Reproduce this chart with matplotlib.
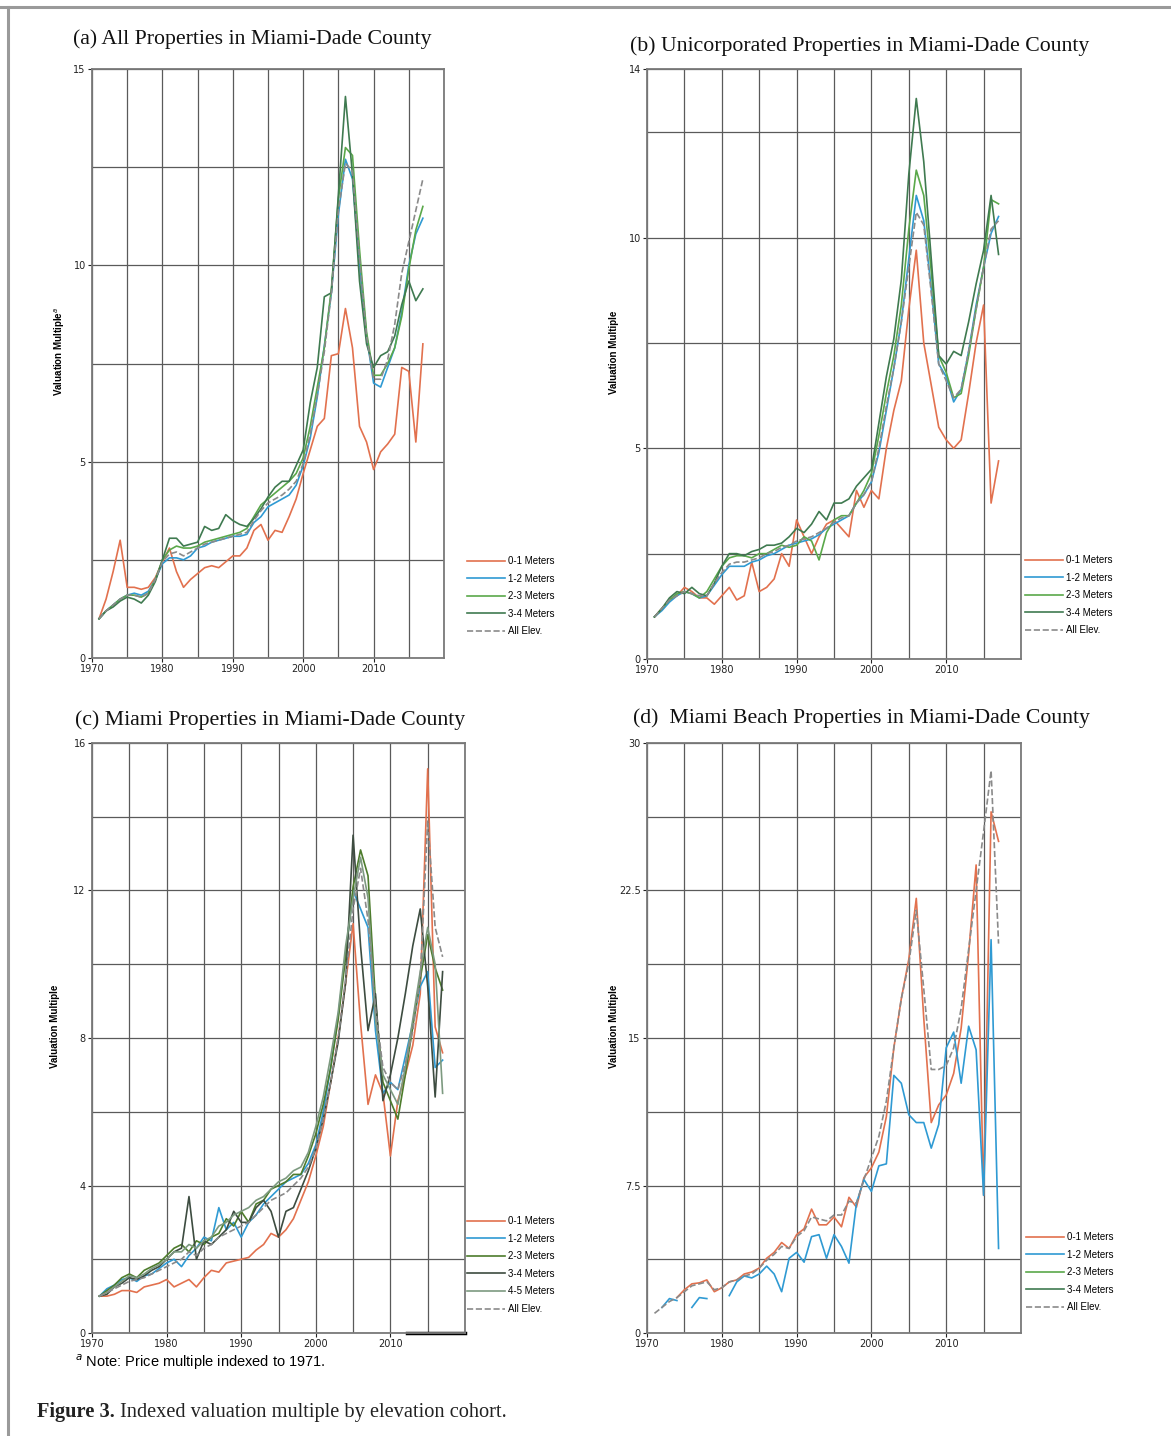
import matplotlib.pyplot as plt
import numpy as np
from matplotlib.lines import Line2D
from matplotlib.ticker import FixedLocator, MultipleLocator

nan = np.nan
years = np.arange(1971, 2018)

# ---------------- (a) all properties ----------------
a_01 = [1.0, 1.5, 2.2, 3.0, 1.8, 1.8, 1.75, 1.8, 2.05, 2.45,
        2.8, 2.2, 1.8, 2.0, 2.15, 2.3, 2.35, 2.3, 2.45, 2.6,
        2.6, 2.8, 3.25, 3.4, 3.0, 3.25, 3.2, 3.6, 4.05, 4.7,
        5.3, 5.9, 6.1, 7.7, 7.75, 8.9, 7.9, 5.9, 5.5, 4.8,
        5.25, 5.45, 5.7, 7.4, 7.3, 5.5, 8.0]
a_12 = [1.0, 1.2, 1.35, 1.5, 1.6, 1.65, 1.6, 1.7, 2.0, 2.4,
        2.55, 2.55, 2.5, 2.6, 2.8, 2.85, 2.95, 3.0, 3.05, 3.1,
        3.1, 3.15, 3.45, 3.6, 3.85, 3.95, 4.05, 4.15, 4.4, 4.9,
        5.6, 6.65, 7.95, 9.3, 11.3, 12.7, 12.2, 10.0, 8.2, 7.0,
        6.9, 7.4, 7.9, 8.8, 10.0, 10.8, 11.2]
a_23 = [1.0, 1.2, 1.35, 1.5, 1.6, 1.6, 1.55, 1.65, 2.0, 2.5,
        2.75, 2.85, 2.8, 2.8, 2.85, 2.95, 3.0, 3.05, 3.1, 3.15,
        3.2, 3.3, 3.6, 3.9, 4.05, 4.2, 4.35, 4.5, 4.7, 5.1,
        5.9, 6.9, 7.9, 9.4, 11.7, 13.0, 12.8, 10.4, 8.3, 7.2,
        7.2, 7.5, 7.9, 8.7, 9.9, 10.9, 11.5]
a_34 = [1.0, 1.2, 1.3, 1.45, 1.55, 1.5, 1.4, 1.6, 1.95, 2.5,
        3.05, 3.05, 2.85, 2.9, 2.95, 3.35, 3.25, 3.3, 3.65, 3.5,
        3.4, 3.35, 3.55, 3.8, 4.1, 4.35, 4.5, 4.5, 4.9, 5.3,
        6.5, 7.4, 9.2, 9.3, 11.8, 14.3, 12.3, 9.6, 8.0, 7.4,
        7.7, 7.8, 8.2, 9.0, 9.6, 9.1, 9.4]
a_all = [1.0, 1.2, 1.35, 1.5, 1.6, 1.6, 1.55, 1.65, 2.0, 2.45,
         2.65, 2.7, 2.6, 2.7, 2.8, 2.9, 2.95, 3.0, 3.05, 3.1,
         3.15, 3.2, 3.5, 3.75, 3.95, 4.05, 4.15, 4.3, 4.5, 4.95,
         5.7, 6.7, 7.8, 9.3, 11.4, 12.6, 12.4, 10.2, 8.2, 7.1,
         7.1, 7.6, 8.5, 9.8, 10.6, 11.4, 12.2]

# ---------------- (b) unincorporated ----------------
b_01 = [1.0, 1.2, 1.4, 1.5, 1.7, 1.6, 1.45, 1.45, 1.3, 1.5,
        1.7, 1.4, 1.5, 2.3, 1.6, 1.7, 1.9, 2.5, 2.2, 3.3,
        2.9, 2.5, 2.9, 3.2, 3.3, 3.1, 2.9, 4.0, 3.6, 4.0,
        3.8, 5.0, 5.9, 6.6, 8.3, 9.7, 7.5, 6.5, 5.5, 5.2,
        5.0, 5.2, 6.3, 7.5, 8.4, 3.7, 4.7]
b_12 = [1.0, 1.15, 1.35, 1.5, 1.6, 1.55, 1.45, 1.5, 1.75, 2.0,
        2.2, 2.2, 2.2, 2.3, 2.35, 2.45, 2.5, 2.6, 2.7, 2.75,
        2.8, 2.85, 2.95, 3.1, 3.2, 3.3, 3.4, 3.7, 3.9, 4.2,
        4.9, 5.9, 6.9, 8.0, 9.5, 11.0, 10.4, 8.8, 7.0, 6.7,
        6.1, 6.4, 7.3, 8.4, 9.3, 10.1, 10.5]
b_23 = [1.0, 1.2, 1.4, 1.55, 1.6, 1.55, 1.45, 1.6, 1.9, 2.2,
        2.4, 2.45, 2.45, 2.4, 2.5, 2.5, 2.6, 2.7, 2.65, 2.7,
        2.9, 2.8, 2.35, 3.0, 3.3, 3.4, 3.4, 3.7, 4.0, 4.4,
        5.3, 6.3, 7.2, 8.4, 10.2, 11.6, 11.0, 9.2, 7.2, 6.8,
        6.2, 6.3, 7.2, 8.3, 9.3, 10.9, 10.8]
b_34 = [1.0, 1.2, 1.45, 1.6, 1.55, 1.7, 1.55, 1.5, 1.8, 2.2,
        2.5, 2.5, 2.45, 2.55, 2.6, 2.7, 2.7, 2.75, 2.9, 3.1,
        3.0, 3.2, 3.5, 3.3, 3.7, 3.7, 3.8, 4.1, 4.3, 4.5,
        5.6, 6.7, 7.6, 9.0, 11.5, 13.3, 11.8, 9.5, 7.2, 7.0,
        7.3, 7.2, 8.0, 8.9, 9.7, 11.0, 9.6]
b_all = [1.0, 1.2, 1.4, 1.5, 1.6, 1.55, 1.5, 1.5, 1.8, 2.05,
         2.25, 2.3, 2.3, 2.35, 2.4, 2.5, 2.55, 2.65, 2.7, 2.8,
         2.85, 2.9, 3.0, 3.1, 3.25, 3.35, 3.4, 3.7, 3.9, 4.2,
         5.0, 6.0, 6.9, 8.0, 9.3, 10.6, 10.3, 8.7, 7.0, 6.6,
         6.2, 6.4, 7.3, 8.3, 9.3, 10.2, 10.4]

# ---------------- (c) Miami ----------------
c_01 = [1.0, 1.0, 1.05, 1.15, 1.15, 1.1, 1.25, 1.3, 1.35, 1.45,
        1.25, 1.35, 1.45, 1.25, 1.5, 1.7, 1.65, 1.9, 1.95, 2.0,
        2.05, 2.25, 2.4, 2.7, 2.6, 2.8, 3.1, 3.6, 4.1, 4.8,
        5.6, 6.8, 8.0, 9.5, 11.1, 8.4, 6.2, 7.0, 6.5, 4.8,
        6.3, 7.0, 7.8, 9.2, 15.3, 8.3, 7.6]
c_12 = [1.0, 1.2, 1.3, 1.45, 1.5, 1.4, 1.55, 1.6, 1.75, 1.9,
        2.0, 1.8, 2.1, 2.3, 2.6, 2.5, 3.4, 2.8, 3.0, 2.6,
        3.0, 3.2, 3.5, 3.7, 3.9, 4.1, 4.2, 4.3, 4.6, 5.1,
        6.0, 7.2, 8.6, 10.3, 12.0, 11.5, 11.0, 8.2, 6.5, 6.8,
        6.6, 7.5, 8.4, 9.4, 9.8, 7.2, 7.4]
c_23 = [1.0, 1.15, 1.3, 1.5, 1.6, 1.5, 1.7, 1.8, 1.9, 2.1,
        2.3, 2.4, 2.2, 2.5, 2.4, 2.6, 2.7, 3.1, 2.9, 3.3,
        3.0, 3.5, 3.6, 3.9, 4.0, 4.1, 4.3, 4.3, 4.8, 5.4,
        6.2, 7.2, 8.5, 10.2, 12.1, 13.1, 12.4, 9.0, 6.8, 6.3,
        5.8, 7.0, 8.3, 9.6, 10.8, 9.9, 9.3]
c_34 = [1.0, 1.05, 1.25, 1.35, 1.5, 1.45, 1.55, 1.7, 1.8, 2.0,
        2.2, 2.3, 3.7, 2.0, 2.5, 2.4, 2.6, 2.8, 3.3, 3.0,
        3.0, 3.4, 3.6, 3.3, 2.6, 3.3, 3.4, 3.9, 4.4, 5.0,
        5.8, 6.8, 7.9, 9.5, 13.5, 10.5, 8.2, 9.2, 6.3, 7.0,
        8.0, 9.2, 10.5, 11.5, 9.4, 6.4, 9.8]
c_45 = [1.0, 1.1, 1.25, 1.4, 1.55, 1.5, 1.6, 1.75, 1.85, 2.0,
        2.2, 2.2, 2.4, 2.3, 2.5, 2.6, 2.9, 3.0, 3.2, 3.3,
        3.4, 3.6, 3.7, 3.9, 4.1, 4.2, 4.4, 4.5, 4.9, 5.6,
        6.4, 7.5, 8.7, 10.5, 11.8, 12.9, 11.8, 8.5, 7.0, 6.6,
        6.2, 7.2, 8.5, 9.8, 11.0, 10.0, 6.5]
c_all = [1.0, 1.1, 1.2, 1.3, 1.4, 1.45, 1.5, 1.6, 1.7, 1.8,
         1.9, 2.0, 2.2, 2.1, 2.3, 2.4, 2.6, 2.7, 2.8, 2.9,
         3.0, 3.2, 3.4, 3.6, 3.7, 3.8, 4.0, 4.2, 4.5, 5.0,
         5.8, 6.8, 8.0, 9.6, 11.5, 12.6, 11.2, 8.8, 7.2, 6.8,
         6.6, 7.3, 8.2, 9.6, 13.9, 11.0, 10.2]

# ---------------- (d) Miami Beach ----------------
d_01 = [nan, nan, nan, 1.8, 2.2, 2.5, 2.55, 2.7, 2.1, 2.3,
        2.6, 2.7, 3.0, 3.1, 3.3, 3.8, 4.1, 4.6, 4.3, 5.0,
        5.3, 6.3, 5.5, 5.5, 5.9, 5.4, 6.9, 6.4, 7.9, 8.4,
        9.2, 11.0, 14.5, 17.0, 19.0, 22.1, 16.0, 10.7, 11.6, 12.1,
        13.2, 15.5, 19.3, 23.8, 7.0, 26.5, 25.0]
d_12 = [nan, 1.3, 1.75, 1.65, nan, 1.3, 1.8, 1.75, nan, nan,
        1.9, 2.6, 2.9, 2.8, 3.0, 3.4, 3.0, 2.1, 3.8, 4.1,
        3.6, 4.9, 5.0, 3.8, 5.0, 4.4, 3.55, 6.6, 7.8, 7.2,
        8.5, 8.6, 13.1, 12.7, 11.1, 10.7, 10.7, 9.4, 10.6, 14.5,
        15.3, 12.7, 15.6, 14.4, 7.0, 20.0, 4.3]
d_23 = [nan] * 47
d_34 = [nan] * 47
d_all = [1.0, 1.3, 1.6, 1.8, 2.1, 2.4, 2.5, 2.6, 2.2, 2.3,
         2.6, 2.7, 2.9, 3.0, 3.3, 3.7, 4.0, 4.4, 4.3, 4.9,
         5.2, 5.9, 5.8, 5.7, 6.0, 6.0, 6.7, 6.6, 7.8, 8.9,
         10.0, 11.8, 14.5, 17.0, 18.8, 21.5, 17.5, 13.4, 13.4, 13.6,
         14.5, 16.5, 19.5, 22.5, 25.5, 28.6, 19.8]

names4 = ['0-1 Meters', '1-2 Meters', '2-3 Meters', '3-4 Meters', 'All Elev.']
names5 = ['0-1 Meters', '1-2 Meters', '2-3 Meters', '3-4 Meters', '4-5 Meters', 'All Elev.']
colors4 = ['#e2714e', '#2f9ad3', '#5aa84a', '#3f7a50', '#8a8a8a']
colors5 = ['#e2714e', '#2f9ad3', '#4d7c2c', '#3d4c40', '#7d9a80', '#8a8a8a']

W, H = 1171, 1436
fig = plt.figure(figsize=(W / 100, H / 100), dpi=100)


def box(l, t, r, b):
    return [l / W, 1 - b / H, (r - l) / W, (b - t) / H]


panels = [
    dict(rect=box(92, 69, 444, 658), series=[a_01, a_12, a_23, a_34, a_all], names=names4, colors=colors4,
         ylim=15, ymaj=[0, 5, 10, 15], ylab=['0', '5', '10', '15'], ymin=2.5,
         ylabel='Valuation Multiple$^{a}$', lx=-0.072,
         title='(a) All Properties in Miami-Dade County', tx=73, ty=39, leg=(467, 556), black=False),
    dict(rect=box(647, 69, 1021, 659), series=[b_01, b_12, b_23, b_34, b_all], names=names4, colors=colors4,
         ylim=14, ymaj=[0, 5, 10, 14], ylab=['0', '5', '10', '14'], ymin=2.5,
         ylabel='Valuation Multiple', lx=-0.074,
         title='(b) Unicorporated Properties in Miami-Dade County', tx=630, ty=46, leg=(1025, 555), black=False),
    dict(rect=box(92, 743, 465, 1333), series=[c_01, c_12, c_23, c_34, c_45, c_all], names=names5,
         colors=colors5, ylim=16, ymaj=[0, 4, 8, 12, 16], ylab=['0', '4', '8', '12', '16'], ymin=2,
         ylabel='Valuation Multiple', lx=-0.087,
         title='(c) Miami Properties in Miami-Dade County', tx=75, ty=720, leg=(467, 1216), black=True),
    dict(rect=box(647, 743, 1021, 1333), series=[d_01, d_12, d_23, d_34, d_all], names=names4, colors=colors4,
         ylim=30, ymaj=[0, 7.5, 15, 22.5, 30], ylab=['0', '7.5', '15', '22.5', '30'], ymin=3.75,
         ylabel='Valuation Multiple', lx=-0.076,
         title='(d)  Miami Beach Properties in Miami-Dade County', tx=633, ty=718, leg=(1026, 1232), black=False),
]

for p in panels:
    ax = fig.add_axes(p['rect'])
    handles = []
    for vals, name, col in zip(p['series'], p['names'], p['colors']):
        ls = '--' if name.startswith('All') else '-'
        h, = ax.plot(years, vals, color=col, lw=1.2, ls=ls, label=name)
        handles.append(h)
    ax.set_xlim(1970, 2020)
    ax.set_ylim(0, p['ylim'])
    ax.xaxis.set_major_locator(FixedLocator([1970, 1980, 1990, 2000, 2010]))
    ax.xaxis.set_minor_locator(MultipleLocator(5))
    ax.set_yticks(p['ymaj'], p['ylab'])
    ax.yaxis.set_minor_locator(MultipleLocator(p['ymin']))
    ax.grid(True, which='both', color='#5a5a5a', lw=0.9)
    ax.set_axisbelow(True)
    ax.tick_params(which='major', length=3, width=0.8, labelsize=7, pad=1.5, colors='#222222')
    ax.tick_params(which='minor', length=0)
    for s in ax.spines.values():
        s.set_color('#7a7a7a')
        s.set_linewidth(1.3)
    if p['black']:
        ax.axhline(0, xmin=0.845, xmax=1.0, color='black', lw=2.5, clip_on=False)
    ax.set_ylabel(p['ylabel'], fontsize=7, fontweight='bold', family='Liberation Sans')
    ax.yaxis.set_label_coords(p['lx'], 0.52)
    fig.text(p['tx'] / W, 1 - p['ty'] / H, p['title'], family='Liberation Serif', fontsize=15.7,
             ha='left', va='center', color='#111111')
    lx, ly = p['leg']
    fig.legend(handles=handles, loc='upper left', bbox_to_anchor=(lx / W, 1 - ly / H), frameon=False,
               handlelength=3.9, handletextpad=0.35, labelspacing=0.78,
               borderpad=0, borderaxespad=0, prop={'family': 'Liberation Sans', 'size': 7})

# outer frame of the figure box
fig.add_artist(Line2D([0, 1], [1 - 7 / H, 1 - 7 / H], color='#9a9a9a', lw=2.2))
fig.add_artist(Line2D([8 / W, 8 / W], [0, 1 - 7 / H], color='#9a9a9a', lw=2.2))

fig.text(75 / W, 1 - 1362 / H, '$^{a}$ Note: Price multiple indexed to 1971.', family='Liberation Sans',
         fontsize=10.5, ha='left', va='center')

cap1 = fig.text(37 / W, 1 - 1412 / H, 'Figure 3.', family='Liberation Serif', fontweight='bold',
                fontsize=14.7, ha='left', va='center', color='#222222')
fig.canvas.draw()
bb = cap1.get_window_extent()
fig.text((bb.x1 + 5) / W, 1 - 1412 / H, 'Indexed valuation multiple by elevation cohort.',
         family='Liberation Serif', fontsize=14.7, ha='left', va='center', color='#222222')

fig.savefig('out.png', dpi=100)
